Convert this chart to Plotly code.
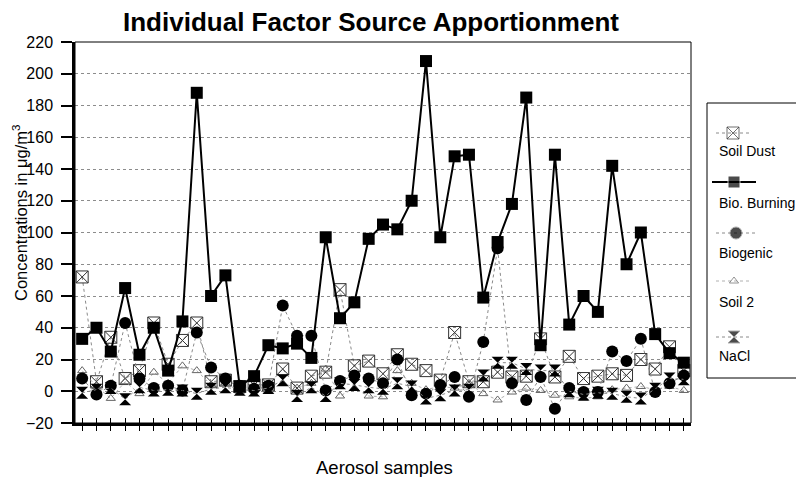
import plotly.graph_objects as go

# ---------------- data ----------------
samples = list(range(1, 44))

soil_dust = [72, 6, 34, 8, 13, 43, 17, 32, 43, 6, 7, 3, 4, 4, 14, 2, 9.5, 12, 64, 16,
             19, 11, 23, 17, 13, 7, 37, 6, 6, 12, 9, 9.5, 33, 9, 22, 8, 9.5, 11, 10, 20,
             14, 28, 13]
bio_burning = [33, 40, 25, 65, 23, 40, 13, 44, 188, 60, 73, 3, 9.5, 29, 27, 30, 21, 97, 46, 56,
               96, 105, 102, 120, 208, 97, 148, 149, 59, 94, 118, 185, 29, 149, 42, 60, 50, 142, 80, 100,
               36, 24, 18]
biogenic = [8, -2, 3.5, 43, 8, 2, 3.5, 0.5, 37, 15, 8, 3.5, 1.5, 3.5, 54, 35, 35, 0.5, 6.5, 10,
            8, 5, 20, -2.5, -1.5, 4, 9, -3.5, 31, 90, 5, -5.5, 9, -11, 2, -0.5, -0.5, 25, 19, 33,
            -0.5, 5, 10]
soil2 = [13, 3, -4.5, 6, -1.5, 12, 5, 16, 13, 4, 5, 0, 3, 0.5, 5, 2, 5, 14, -3, 2,
         -3, -3.5, 13, 5, 1, 3, 2, 5, -1.5, -5.5, -0.5, 2, 0.5, -2.5, -3.5, -4.5, -3.5, 1, 2, 3,
         1, 3, 0.5]
nacl = [-1, 1, 2, -5, 2.5, 0.5, 1, 0.5, -1.5, 1.5, 2.5, 1, 0.5, 2, 7, -3, 2.5, -3, 5, 4,
        2.5, 1.5, 5, 3, -4.5, -2.5, 0.5, 1, 10, 18, 18, 14, 13, 13, 0, -2, -1, -1.5, -3.5, -4.5,
        1.5, 8, 7.5]

series_names = ["Soil Dust", "Bio. Burning", "Biogenic", "Soil 2", "NaCl"]
y_ticks = list(range(-20, 221, 20))

# ---------------- styles ----------------
styles = {
    "Soil Dust": dict(line=dict(color="#8a8a8a", width=1, dash="dot"),
                      marker=dict(symbol="square-x-open", size=12, color="#333333",
                                  line=dict(color="#333333", width=1))),
    "Bio. Burning": dict(line=dict(color="black", width=2),
                         marker=dict(symbol="square", size=12, color="black")),
    "Biogenic": dict(line=dict(color="#8a8a8a", width=1, dash="dot"),
                     marker=dict(symbol="circle", size=12, color="black")),
    "Soil 2": dict(line=dict(color="#b0b0b0", width=1, dash="dot"),
                   marker=dict(symbol="triangle-up-open", size=8, color="#666666",
                               line=dict(color="#666666", width=1))),
    "NaCl": dict(line=dict(color="#8a8a8a", width=1, dash="dot"),
                 marker=dict(symbol="hourglass", size=12, color="black")),
}
values = {"Soil Dust": soil_dust, "Bio. Burning": bio_burning, "Biogenic": biogenic,
          "Soil 2": soil2, "NaCl": nacl}

FONT = "Liberation Sans, Arial, sans-serif"
OFF = 8                     # page body margin
W, H = 804 - OFF, 477 - OFF
ML, MT = 75 - OFF, 42 - OFF
MB = 477 - 423
PW = W - ML                 # plotting width (margin r = 0)
PH = H - MT - MB            # plotting height
MAIN_W = 616                # main chart width in px

fig = go.Figure()

draw_order = ["Soil Dust", "Soil 2", "Biogenic", "NaCl", "Bio. Burning"]
for name in draw_order:
    st = styles[name]
    fig.add_trace(go.Scatter(x=samples, y=values[name], mode="lines+markers", name=name,
                             line=st["line"], marker=st["marker"], showlegend=False,
                             cliponaxis=False))

# ---------------- custom legend (pixel overlay axes; reference pixel coords) ----------------
def px_x(px):
    return px - 75

def px_y(py):
    return 423 - py

legend_rows = {  # name: (line x0, line x1, marker x, sample y, text y)
    "Soil Dust": (716, 752, 733, 133, 151),
    "Bio. Burning": (712, 756, 734, 182, 203),
    "Biogenic": (716, 756, 736, 233, 253),
    "Soil 2": (716, 752, 734, 281, 302),
    "NaCl": (716, 752, 734, 337, 356),
}
for name in series_names:
    x0, x1, xm, ys, yt = legend_rows[name]
    st = styles[name]
    fig.add_trace(go.Scatter(x=[px_x(x0), px_x(xm), px_x(x1)], y=[px_y(ys)] * 3,
                             mode="lines+markers", line=st["line"],
                             marker=dict(st["marker"], size=[0, st["marker"]["size"], 0]),
                             xaxis="x2", yaxis="y2", showlegend=False, hoverinfo="skip",
                             cliponaxis=False))
    fig.add_annotation(x=px_x(717), y=px_y(yt), xref="x2", yref="y2", text=name,
                       showarrow=False, xanchor="left", yanchor="middle",
                       font=dict(family=FONT, size=14, color="black"))

fig.add_shape(type="rect", xref="x2", yref="y2", x0=px_x(707), x1=px_x(812),
              y0=px_y(378), y1=px_y(103), line=dict(color="black", width=1))

# plot frame (thin top/right)
fig.add_shape(type="rect", xref="x domain", yref="y domain", x0=0, x1=1, y0=0, y1=1,
              line=dict(color="black", width=1), layer="above")

fig.update_layout(
    width=W, height=H,
    margin=dict(l=ML, r=0, t=MT, b=MB),
    paper_bgcolor="white", plot_bgcolor="rgba(0,0,0,0)",
    font=dict(family=FONT, size=14, color="black"),
    title=dict(text="<b>Individual Factor Source Apportionment</b>",
               x=(371 - OFF) / W, xanchor="center", y=1 - (22 - OFF) / H, yanchor="middle",
               font=dict(family=FONT, size=26, color="black")),
    xaxis=dict(domain=[0, MAIN_W / PW], range=[0.5, 43.5], tickvals=samples,
               showticklabels=False, ticks="outside", ticklen=5, tickcolor="black",
               showline=True, linecolor="black", linewidth=2.5, showgrid=False,
               zeroline=False, fixedrange=True),
    xaxis3=dict(overlaying="x", anchor="y", side="bottom", range=[0.5, 43.5],
                tickvals=samples, showticklabels=False, ticks="inside", ticklen=5,
                tickcolor="black", showline=False, showgrid=False, zeroline=False),
    yaxis=dict(range=[-20, 220], tickvals=y_ticks, ticks="outside", ticklen=11,
               tickcolor="black", tickwidth=1.5, showline=True, linecolor="black", linewidth=2.5,
               showgrid=True, gridcolor="#8c8c8c", griddash="dot", gridwidth=1,
               zeroline=False, ticklabelstandoff=5,
               tickfont=dict(family=FONT, size=16, color="black")),
    xaxis2=dict(domain=[0, 1], range=[0, PW], visible=False, anchor="y2", fixedrange=True),
    yaxis2=dict(domain=[0, 1], range=[0, PH], visible=False, anchor="x2", fixedrange=True),
)
# dummy trace so xaxis3 is drawn
fig.add_trace(go.Scatter(x=[None], y=[None], xaxis="x3", yaxis="y", showlegend=False,
                         hoverinfo="skip"))

fig.add_annotation(text="Concentrations in μg/m<sup>3</sup>", xref="paper", yref="paper",
                   x=(20 - 75) / PW, y=(423 - 213) / PH, textangle=-90, showarrow=False,
                   xanchor="center", yanchor="middle",
                   font=dict(family=FONT, size=16.5, color="black"))
fig.add_annotation(text="Aerosol samples", xref="paper", yref="paper",
                   x=(384 - 75) / PW, y=(423 - 467) / PH, showarrow=False,
                   xanchor="center", yanchor="middle",
                   font=dict(family=FONT, size=18.5, color="black"))

fig.write_html("out.html")
